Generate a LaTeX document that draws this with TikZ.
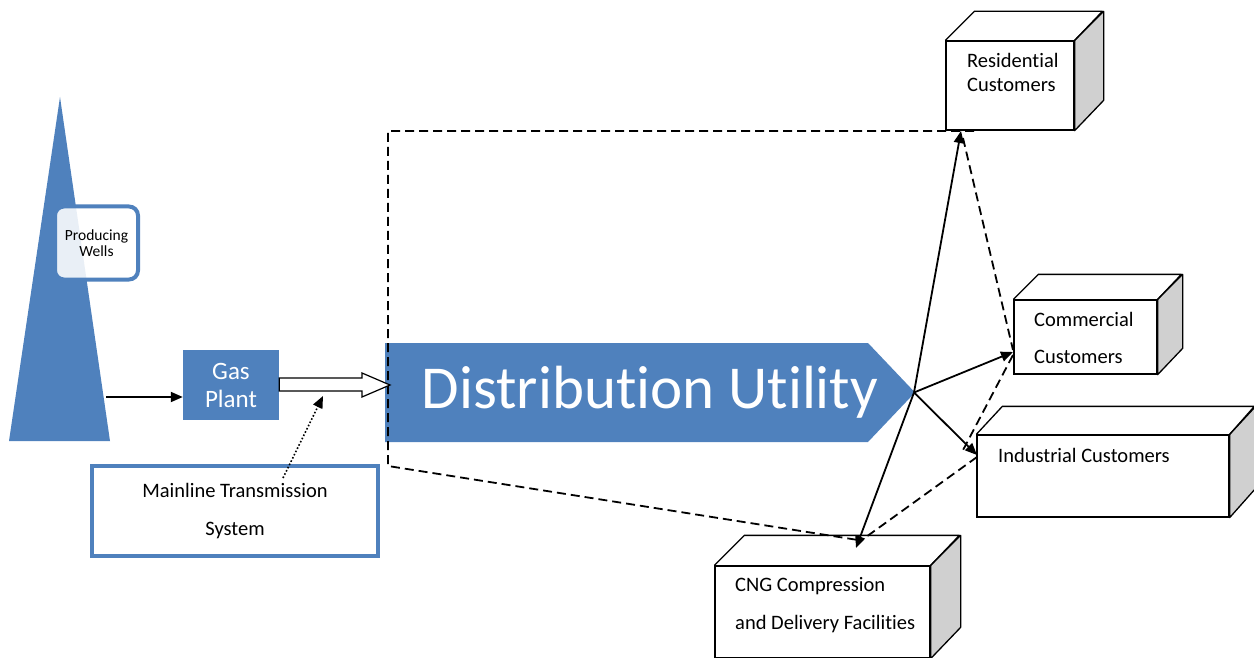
\documentclass[tikz,border=0pt]{standalone}
\usepackage{fontspec}
\setmainfont{Carlito}[Ligatures=NoCommon]
\usetikzlibrary{arrows.meta}
\definecolor{acc}{RGB}{79,129,189}
\definecolor{side}{RGB}{208,208,208}
\tikzset{
  conn/.style={line width=1.8pt,-{Triangle[length=12pt,width=10pt]}},
  dashconn/.style={line width=1.8pt,dash pattern=on 9pt off 5pt},
  cubefront/.style={draw,line width=1.3pt,fill=white,inner sep=0pt},
  cubeface/.style={draw,line width=1.3pt,line join=round},
  cubetext/.style={font=\fontsize{20.5}{24}\selectfont,anchor=west,inner sep=0pt},
  bluebox/.style={fill=acc,inner sep=0pt,text=white},
}
\begin{document}
\begin{tikzpicture}[x=1pt,y=-1pt]
\useasboundingbox (0,0) rectangle (1254,658);

% producing wells
\fill[acc] (60,97) -- (110,441) -- (9,441) -- cycle;
\coordinate (wellout) at (106,397);
\node[draw=acc,line width=4pt,fill=white,fill opacity=0.88,text opacity=1,rounded corners=9pt,
      minimum width=83pt,minimum height=73pt,inner sep=0pt,align=center,
      font=\fontsize{15.5}{16.5}\selectfont] (wells) at (96.5,243) {Producing\\Wells};

% gas plant
\node[bluebox,minimum width=96pt,minimum height=70pt,align=center,
      font=\fontsize{25}{28}\selectfont] (gas) at (231,385) {Gas\\Plant};

% mainline transmission
\node[draw=acc,line width=4.5pt,fill=white,minimum width=286pt,minimum height=90pt,inner sep=0pt,
      align=center,font=\fontsize{20.5}{38}\selectfont] (main) at (235,511) {Mainline Transmission\\System};

% distribution utility
\fill[acc] (385,343) -- (868,343) -- (915,392.5) -- (868,442) -- (385,442) -- cycle;
\coordinate (dutip) at (914,392.5);
\coordinate (duin) at (390,385);
\node[text=white,inner sep=0pt,font=\fontsize{61}{62}\selectfont] (du) at (650,392) {Distribution Utility};

% customer boxes
\node[cubefront,minimum width=128pt,minimum height=89pt] (res) at (1010,85.5) {};
\filldraw[cubeface,fill=side] (res.north east) -- ++(29,-29) -- ++(0,89) -- (res.south east) -- cycle;
\draw[cubeface] (res.north west) -- ++(29,-29) -- ++(128,0) -- (res.north east);
\node[cubetext] (restxt1) at (967,60) {Residential};
\node[cubetext] (restxt2) at (967,85) {Customers};

\node[cubefront,minimum width=143pt,minimum height=74pt] (com) at (1085.5,337) {};
\filldraw[cubeface,fill=side] (com.north east) -- ++(25,-25) -- ++(0,74) -- (com.south east) -- cycle;
\draw[cubeface] (com.north west) -- ++(25,-25) -- ++(143,0) -- (com.north east);
\node[cubetext] (comtxt1) at (1034,319) {Commercial};
\node[cubetext] (comtxt2) at (1034,357) {Customers};

\node[cubefront,minimum width=252pt,minimum height=82pt] (ind) at (1103,476) {};
\filldraw[cubeface,fill=side] (ind.north east) -- ++(26,-28) -- ++(0,82) -- (ind.south east) -- cycle;
\draw[cubeface] (ind.north west) -- ++(26,-28) -- ++(252,0) -- (ind.north east);
\node[cubetext] (indtxt) at (998,455) {Industrial Customers};

\node[cubefront,minimum width=215pt,minimum height=92pt] (cng) at (822.5,612) {};
\filldraw[cubeface,fill=side] (cng.north east) -- ++(30,-30) -- ++(0,92) -- (cng.south east) -- cycle;
\draw[cubeface] (cng.north west) -- ++(30,-30) -- ++(215,0) -- (cng.north east);
\node[cubetext] (cngtxt1) at (735,586) {CNG Compression};
\node[cubetext] (cngtxt2) at (735,624) {and Delivery Facilities};

% connection points on the boxes
\coordinate (resin) at (961,131);
\coordinate (comin) at (1013,352);
\coordinate (indin) at (977,455);
\coordinate (cngin) at (856,548);

% feedback loop (dashed)
\coordinate (loopa) at (388,131);
\coordinate (loopb) at (388,466);
\draw[dashconn] (974,131) -- (loopa) -- (loopb) -- (858,540);
\draw[dashconn] (963,138) -- (1013,350);
\draw[dashconn] (1013,355) -- (962,452);
\draw[dashconn] (977,457) -- (866,537);

% main flow
\draw[conn] (wellout) -- (gas.west |- wellout);
\filldraw[line width=1.2pt,fill=white,line join=miter]
  (gas.east |- 0,378) -- (362,378) -- (362,373) -- (duin) -- (362,397) -- (362,391) -- (gas.east |- 0,391) -- cycle;
\draw[line width=1.6pt,dotted,-{Triangle[length=12pt,width=10pt]}] (283,478) -- (323,396);

% distribution to customers
\draw[conn] (dutip) -- (resin);
\draw[conn] (dutip) -- (comin);
\draw[conn] (dutip) -- (indin);
\draw[conn] (dutip) -- (cngin);
\end{tikzpicture}
\end{document}
